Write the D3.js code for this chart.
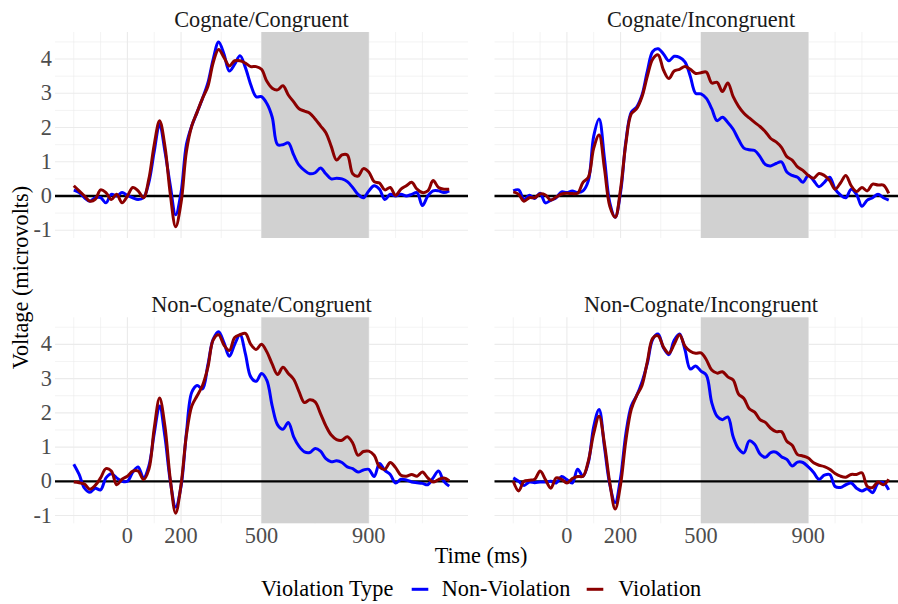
<!DOCTYPE html>
<html><head><meta charset="utf-8">
<script src="https://cdn.jsdelivr.net/npm/d3@7/dist/d3.min.js"></script>
<style>
body{margin:0;background:#fff;}
svg{display:block;overflow:hidden;}
text{font-family:"Liberation Serif","Times New Roman",serif;}
</style>
</head><body>
<svg id="chart" width="898" height="604"></svg>
<script>
// ---------- DATA ----------
const panelTitles = ["Cognate/Congruent","Cognate/Incongruent","Non-Cognate/Congruent","Non-Cognate/Incongruent"];
const seriesNames = ["Non-Violation","Violation"];
const seriesColors = ["#0000ff","#8b0000"];
const xTickValues = [0,200,500,900];
const xMinorGrid = [-200,-100,100,350,700,1000,1100];
const yTickValues = [-1,0,1,2,3,4];
const yMinorGrid = [-0.5,0.5,1.5,2.5,3.5,4.5];
const shadeWindow = [500,900];

const times = [-200,-180,-160,-140,-120,-100,-80,-60,-40,-20,0,20,40,60,80,100,120,140,160,180,200,220,240,260,280,300,320,340,360,380,400,420,440,460,480,500,520,540,560,580,600,620,640,660,680,700,720,740,760,780,800,820,840,860,880,900,920,940,960,980,1000,1020,1040,1060,1080,1100,1120,1140,1160,1180,1200];

// Cognate/Congruent
const ccNonViolation = [0.17,0.1,-0.05,-0.15,-0.05,-0.05,-0.2,0.05,0.0,0.1,
 0.02,-0.05,-0.1,-0.05,0.4,1.3,2.1,1.3,0.3,-0.55,
 0.1,1.5,2.05,2.45,2.85,3.3,4.0,4.5,4.15,3.65,
 3.85,4.1,3.75,3.25,2.9,2.9,2.7,2.3,1.5,1.5,
 1.55,1.2,0.9,0.75,0.65,0.68,0.82,0.65,0.5,0.52,
 0.5,0.42,0.25,0.05,-0.05,0.15,0.3,0.2,-0.1,0.05,
 0.0,0.05,0.0,0.05,0.1,-0.28,0.0,0.15,0.15,0.1,0.15];
const ccViolation = [0.3,0.15,0.0,-0.15,-0.1,0.18,0.1,-0.1,0.05,-0.2,
 0.0,0.25,0.15,-0.05,0.5,1.5,2.2,1.45,0.05,-0.9,
 -0.2,1.3,2.05,2.45,2.85,3.2,3.9,4.28,4.05,3.8,
 3.95,3.95,3.88,3.78,3.78,3.7,3.35,3.15,3.1,3.22,
 2.95,2.75,2.55,2.48,2.42,2.25,2.05,1.85,1.45,1.05,
 1.2,1.2,0.65,0.58,0.8,0.7,0.42,0.38,0.18,0.25,
 0.02,0.2,0.3,0.4,0.2,0.1,0.15,0.45,0.25,0.2,0.2];
// Cognate/Incongruent
const ciNonViolation = [0.15,0.18,-0.1,0.02,-0.07,0.08,-0.2,-0.12,-0.05,0.12,
 0.1,0.15,0.1,0.15,0.45,1.75,2.25,1.1,-0.2,-0.62,
 0.1,1.6,2.45,2.6,2.95,3.65,4.22,4.3,4.15,3.95,
 4.08,4.05,3.92,3.5,3.0,2.98,2.85,2.55,2.2,2.3,
 2.15,1.95,1.65,1.4,1.35,1.33,1.15,0.92,0.88,0.95,
 1.0,0.7,0.6,0.55,0.4,0.6,0.45,0.27,0.4,0.55,
 0.2,0.03,-0.05,0.2,0.05,-0.3,-0.12,-0.05,0.05,-0.05,-0.12];
const ciViolation = [0.12,0.05,-0.15,-0.05,-0.05,0.06,0.03,-0.12,-0.03,0.06,
 0.08,0.07,0.08,0.4,0.55,1.4,1.78,0.8,-0.3,-0.62,
 0.2,1.55,2.4,2.55,2.9,3.5,4.0,4.12,3.68,3.43,
 3.65,3.7,3.78,3.7,3.58,3.6,3.62,3.3,3.32,3.05,
 3.3,2.9,2.62,2.42,2.28,2.15,2.03,1.88,1.68,1.58,
 1.42,1.15,1.05,0.85,0.75,0.6,0.52,0.66,0.6,0.45,
 0.2,0.38,0.6,0.3,0.13,0.25,0.15,0.35,0.32,0.32,0.08];
// Non-Cognate/Congruent
const nccNonViolation = [0.5,0.2,-0.2,-0.32,-0.2,-0.25,0.1,0.22,0.1,0.0,
 0.0,0.27,0.42,0.1,0.45,1.4,2.2,1.3,0.0,-0.75,
 -0.15,1.41,2.6,2.8,2.7,3.4,4.15,4.37,4.05,3.65,
 4.0,4.28,3.72,3.05,2.92,3.15,2.95,2.2,1.65,1.52,
 1.72,1.3,1.02,0.86,0.84,0.96,0.88,0.66,0.57,0.6,
 0.55,0.42,0.37,0.27,0.33,0.35,0.14,0.52,0.32,0.2,
 -0.05,0.06,0.04,-0.02,-0.04,-0.06,-0.1,0.1,0.3,0.0,-0.14];
const nccViolation = [-0.02,-0.04,-0.08,-0.23,-0.12,0.1,0.37,0.3,-0.1,0.06,
 0.15,0.3,0.3,0.05,0.35,1.55,2.43,1.6,0.05,-0.93,
 -0.1,1.35,2.2,2.5,2.8,3.33,4.13,4.28,3.98,3.82,
 4.2,4.28,4.32,4.0,3.85,4.0,3.78,3.42,3.12,3.33,
 3.15,2.98,2.62,2.3,2.38,2.32,1.98,1.62,1.35,1.22,
 1.2,1.3,1.12,0.76,0.87,0.88,0.76,0.42,0.35,0.55,
 0.4,0.18,0.15,0.2,0.15,0.27,0.1,-0.02,0.05,0.1,0.02];
// Non-Cognate/Incongruent
const nciNonViolation = [0.1,0.0,-0.12,-0.02,-0.04,-0.02,-0.02,0.0,-0.05,0.14,
 0.05,-0.05,0.35,0.15,0.55,1.6,2.1,1.0,-0.1,-0.62,
 0.1,1.4,2.2,2.5,2.9,3.45,4.15,4.3,3.9,3.7,
 4.12,4.3,3.85,3.28,3.37,3.22,3.1,2.3,1.9,1.8,
 1.88,1.3,0.95,0.83,1.18,1.08,0.8,0.7,0.84,0.85,
 0.72,0.64,0.45,0.56,0.55,0.42,0.26,0.06,0.18,0.2,
 -0.15,-0.18,-0.1,-0.05,-0.2,-0.28,-0.22,-0.33,-0.06,-0.04,-0.25];
const nciViolation = [0.0,-0.28,0.0,0.03,0.06,0.3,0.05,-0.2,0.1,0.06,
 -0.05,0.08,0.14,0.15,0.6,1.4,1.9,1.1,-0.05,-0.81,
 -0.1,1.2,2.1,2.5,2.8,3.5,4.18,4.25,3.92,3.74,
 4.0,4.28,3.95,3.8,3.74,3.75,3.55,3.25,3.16,3.2,
 3.05,2.96,2.55,2.42,2.12,2.02,1.8,1.72,1.55,1.45,
 1.45,1.17,1.05,0.78,0.74,0.68,0.54,0.47,0.43,0.35,
 0.23,0.15,0.12,0.2,0.2,0.25,-0.15,-0.18,-0.02,-0.1,0.06];

const panelSeries = [
  [ccNonViolation, ccViolation],
  [ciNonViolation, ciViolation],
  [nccNonViolation, nccViolation],
  [nciNonViolation, nciViolation]
];

// ---------- LAYOUT ----------
const svg = d3.select("#chart");
const W = 413, H = 206;
const colLeft = [55, 494.5];
const rowTop = [32, 317.3];
const FS = 22.3;
const LW = 3.0;

const x = d3.scaleLinear().domain([-270, 1270]).range([0, W]);
const y = d3.scaleLinear().domain([-1.226, 4.79]).range([H, 0]);

const line = d3.line()
  .x((d) => x(d[0]))
  .y((d) => y(d[1]))
  .curve(d3.curveCatmullRom.alpha(0.5));

panelTitles.forEach((title, i) => {
  const col = i % 2, row = Math.floor(i / 2);
  const g = svg.append("g").attr("transform", `translate(${colLeft[col]},${rowTop[row]})`);

  // grid
  g.selectAll(".ymin").data(yMinorGrid).enter().append("line")
    .attr("x1", 0).attr("x2", W).attr("y1", d => y(d)).attr("y2", d => y(d))
    .attr("stroke", "#ebebeb").attr("stroke-width", 0.6);
  g.selectAll(".xmin").data(xMinorGrid).enter().append("line")
    .attr("y1", 0).attr("y2", H).attr("x1", d => x(d)).attr("x2", d => x(d))
    .attr("stroke", "#ebebeb").attr("stroke-width", 0.6);
  g.selectAll(".ymaj").data(yTickValues).enter().append("line")
    .attr("x1", 0).attr("x2", W).attr("y1", d => y(d)).attr("y2", d => y(d))
    .attr("stroke", "#ebebeb").attr("stroke-width", 1.1);
  g.selectAll(".xmaj").data(xTickValues).enter().append("line")
    .attr("y1", 0).attr("y2", H).attr("x1", d => x(d)).attr("x2", d => x(d))
    .attr("stroke", "#ebebeb").attr("stroke-width", 1.1);

  // shaded window
  g.append("rect")
    .attr("x", x(shadeWindow[0])).attr("width", x(shadeWindow[1]) - x(shadeWindow[0]))
    .attr("y", 0).attr("height", H).attr("fill", "#d1d1d1");

  // zero line
  g.append("line").attr("x1", 0).attr("x2", W).attr("y1", y(0)).attr("y2", y(0))
    .attr("stroke", "#000").attr("stroke-width", 2.3);

  // series
  panelSeries[i].forEach((vals, s) => {
    const pts = times.map((t, k) => [t, vals[k]]);
    g.append("path").datum(pts).attr("d", line)
      .attr("fill", "none").attr("stroke", seriesColors[s])
      .attr("stroke-width", LW).attr("stroke-linejoin", "round").attr("stroke-linecap", "butt");
  });

  // strip title
  g.append("text").attr("x", W / 2).attr("y", -5).attr("text-anchor", "middle")
    .attr("font-size", FS).attr("fill", "#1a1a1a").text(title);

  // y axis labels (left column)
  if (col === 0) {
    g.selectAll(".ylab").data(yTickValues).enter().append("text")
      .attr("x", -3).attr("y", d => y(d) + 7).attr("text-anchor", "end")
      .attr("font-size", FS).attr("fill", "#4d4d4d").text(d => d);
  }
  // x axis labels (bottom row)
  if (row === 1) {
    g.selectAll(".xlab").data(xTickValues).enter().append("text")
      .attr("x", d => x(d)).attr("y", H + 20.2).attr("text-anchor", "middle")
      .attr("font-size", FS).attr("fill", "#4d4d4d").text(d => d);
  }
});

// axis titles
svg.append("text").attr("x", 481).attr("y", 563).attr("text-anchor", "middle")
  .attr("font-size", FS).attr("fill", "#000").text("Time (ms)");
svg.append("text").attr("transform", "translate(28,277.6) rotate(-90)")
  .attr("text-anchor", "middle").attr("font-size", FS).attr("fill", "#000")
  .text("Voltage (microvolts)");

// legend
const lg = svg.append("g");
lg.append("text").attr("x", 261).attr("y", 596).attr("font-size", FS).attr("fill", "#000").text("Violation Type");
const keyX = [411.7, 586.7];
const labX = [441.7, 618.3];
seriesNames.forEach((n, s) => {
  lg.append("line").attr("x1", keyX[s]).attr("x2", keyX[s] + 16.6)
    .attr("y1", 589.3).attr("y2", 589.3)
    .attr("stroke", seriesColors[s]).attr("stroke-width", LW);
  lg.append("text").attr("x", labX[s]).attr("y", 596).attr("font-size", FS).attr("fill", "#000").text(n);
});
</script>
</body></html>
